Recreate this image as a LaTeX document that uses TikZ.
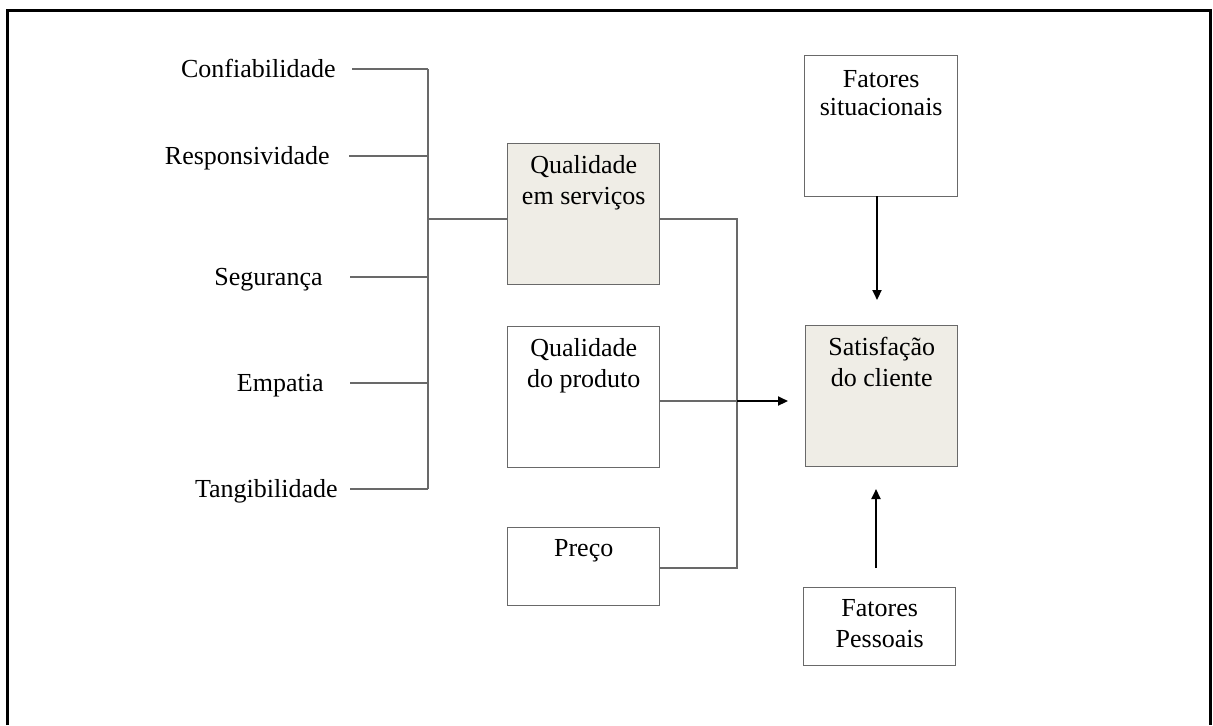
\documentclass[tikz,border=0pt]{standalone}
\usepackage{fontspec}
\setmainfont{Liberation Serif}
\usetikzlibrary{arrows.meta}
\definecolor{bege}{RGB}{239,237,230}
\definecolor{cinza}{RGB}{105,105,105}

\begin{document}
\begin{tikzpicture}[x=0.5pt,y=-0.5pt,
	font=\fontsize{13}{15.5}\selectfont,
	rotulo/.style={anchor=base east,inner sep=0pt},
	caixa/.style={draw=cinza,line width=0.7pt,anchor=north west,inner sep=0pt},
	texto/.style={anchor=north,inner sep=0pt,align=center,yshift=-6pt},
	liga/.style={draw=cinza,line width=0.6pt},
	seta/.style={line width=1pt,-{Triangle[length=5pt,width=4.5pt]}}]
	\useasboundingbox (0,0) rectangle (1213,725);
	\draw[line width=1.5pt] (7,725) -- (7,10) -- (1210,10) -- (1210,725);
	% dimensoes
	\node[rotulo] (conf) at (336,77) {Confiabilidade};
	\node[rotulo] (resp) at (330,164) {Responsividade};
	\node[rotulo] (segu) at (323,285) {Segurança};
	\node[rotulo] (empa) at (324,391) {Empatia};
	\node[rotulo] (tang) at (338,497) {Tangibilidade};
	\coordinate (e1) at (428,69);
	\coordinate (e2) at (428,156);
	\coordinate (e3) at (428,277);
	\coordinate (e4) at (428,383);
	\coordinate (e5) at (428,489);
	\coordinate (eq) at (428,219);
	\draw[liga] (352,69) -- (e1);
	\draw[liga] (349,156) -- (e2);
	\draw[liga] (350,277) -- (e3);
	\draw[liga] (350,383) -- (e4);
	\draw[liga] (350,489) -- (e5);
	\draw[liga] (e1) -- (e5);
	% caixas
	\node[caixa,fill=bege,minimum width=76pt,minimum height=70.5pt] (qs) at (507,143) {};
	\node[texto] (qst) at (qs.north) {Qualidade\\em serviços};
	\node[caixa,minimum width=76pt,minimum height=70.5pt] (qp) at (507,326) {};
	\node[texto] (qpt) at (qp.north) {Qualidade\\do produto};
	\node[caixa,minimum width=76pt,minimum height=39pt] (pr) at (507,527) {};
	\node[texto] (prt) at (pr.north) {Preço};
	\node[caixa,minimum width=76.5pt,minimum height=70.5pt] (fs) at (804,55) {};
	\node[texto,yshift=-1.5pt,font=\fontsize{13}{14}\selectfont] (fst) at (fs.north) {Fatores\\situacionais};
	\node[caixa,fill=bege,minimum width=76pt,minimum height=70.5pt] (sc) at (805,325) {};
	\node[texto] (sct) at (sc.north) {Satisfação\\do cliente};
	\node[caixa,minimum width=76pt,minimum height=39pt] (fp) at (803,587) {};
	\node[texto] (fpt) at (fp.north) {Fatores\\Pessoais};
	% ligacoes
	\coordinate (qsd) at (659,219);
	\coordinate (qpd) at (659,401);
	\coordinate (prd) at (659,568);
	\coordinate (j1) at (737,219);
	\coordinate (j2) at (737,401);
	\coordinate (j3) at (737,568);
	\coordinate (ponta) at (788,401);
	\coordinate (fss) at (877,196);
	\coordinate (sct1) at (877,300);
	\coordinate (fpn) at (876,568);
	\coordinate (scb) at (876,489);
	\draw[liga] (eq) -- (eq -| qs.west);
	\draw[liga] (qsd) -- (j1) -- (j3) -- (prd);
	\draw[liga] (qpd) -- (j2);
	\draw[seta] (j2) -- (ponta);
	\draw[seta] (fss) -- (sct1);
	\draw[seta] (fpn) -- (scb);
\end{tikzpicture}
\end{document}
